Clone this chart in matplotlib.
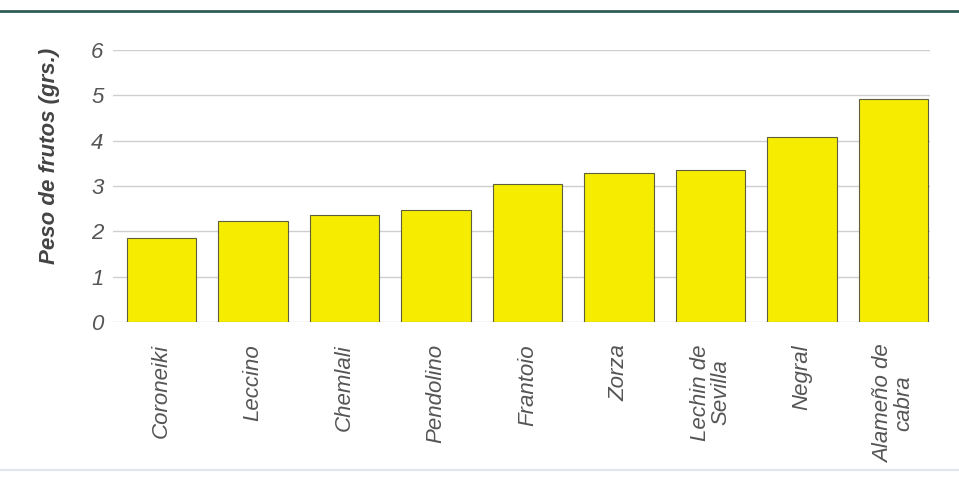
import matplotlib
matplotlib.use("Agg")
import matplotlib.pyplot as plt
from matplotlib.lines import Line2D

# fruit weight per olive variety
variedades = ["Coroneiki", "Leccino", "Chemlali", "Pendolino", "Frantoio",
              "Zorza", "Lechin de\nSevilla", "Negral", "Alameño de\ncabra"]
peso = [1.85, 2.23, 2.36, 2.47, 3.05, 3.29, 3.36, 4.09, 4.92]
yticks = [0, 1, 2, 3, 4, 5, 6]

plt.rcParams["font.family"] = ["Liberation Sans", "DejaVu Sans"]

fig = plt.figure(figsize=(9.59, 4.80), dpi=100)
ax = fig.add_axes([0.118, 0.329, 0.852, 0.567])

x = list(range(len(variedades)))
ax.bar(x, peso, width=0.76, color="#f5ec00", edgecolor="#5e5e3a",
       linewidth=0.8, zorder=3)

ax.set_ylim(0, 6)
ax.set_xlim(-0.53, 8.4)
ax.set_yticks(yticks)
ax.set_yticklabels([str(t) for t in yticks], fontsize=16, style="italic",
                   color="#555555")
ax.yaxis.grid(True, color="#cfcfcf", linewidth=1.0, zorder=0)
ax.tick_params(axis="y", length=0, pad=7)
ax.set_xticks(x)
ax.set_xticklabels(variedades, rotation=90, fontsize=16, style="italic",
                   color="#555555", ha="center", va="top",
                   multialignment="center", linespacing=0.95)
ax.tick_params(axis="x", length=0, pad=16)
for s in ax.spines.values():
    s.set_visible(False)

ax.set_ylabel("Peso de frutos (grs.)", fontsize=16, style="italic",
              fontweight="bold", color="#444444")
ax.yaxis.set_label_coords(-0.065, 0.61)

# rule lines framing the figure
fig.add_artist(Line2D([0, 1], [0.977, 0.977], transform=fig.transFigure,
                      color="#2f5e58", linewidth=2))
fig.add_artist(Line2D([0, 1], [0.02, 0.02], transform=fig.transFigure,
                      color="#dde6ee", linewidth=1.5))

fig.savefig("out.png", dpi=100, facecolor="white")
